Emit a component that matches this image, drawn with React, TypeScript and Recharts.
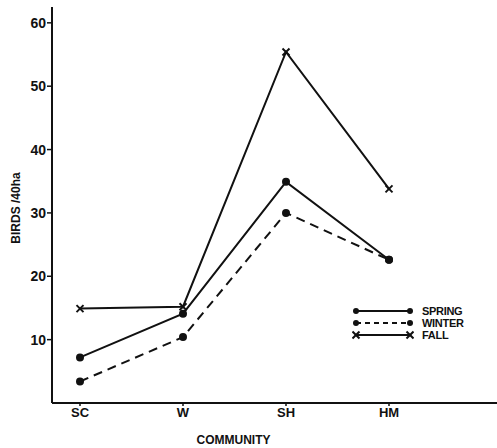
import { Line, LineChart, XAxis, YAxis } from "recharts";

const communities = ["SC", "W", "SH", "HM"];
const spring = [7.2, 14.1, 34.9, 22.6];
const winter = [3.4, 10.4, 30, 22.6];
const fall = [14.9, 15.2, 55.4, 33.8];
const yTicks = [10, 20, 30, 40, 50, 60];

const data = communities.map((c, i) => ({
  community: c,
  spring: spring[i],
  winter: winter[i],
  fall: fall[i],
}));

const FONT = "'Liberation Sans', Arial, sans-serif";

function CrossDot(props: { cx?: number; cy?: number }) {
  const { cx, cy } = props;
  if (cx == null || cy == null) return null;
  const s = 3.5;
  return (
    <g stroke="#111" strokeWidth={2}>
      <line x1={cx - s} y1={cy - s} x2={cx + s} y2={cy + s} />
      <line x1={cx - s} y1={cy + s} x2={cx + s} y2={cy - s} />
    </g>
  );
}

function LegendBox() {
  const rows = [
    { label: "SPRING", dash: undefined, mark: "dot" },
    { label: "WINTER", dash: "5 4", mark: "dot" },
    { label: "FALL", dash: undefined, mark: "x" },
  ];
  return (
    <div
      style={{
        position: "absolute",
        left: 352,
        top: 305,
        fontFamily: FONT,
        fontWeight: 700,
        fontSize: 11,
        lineHeight: "12px",
        color: "#111",
      }}
    >
      {rows.map((r) => (
        <div key={r.label} style={{ display: "flex", alignItems: "center", height: 12 }}>
          <svg width={62} height={12}>
            <line x1={4} y1={6} x2={58} y2={6} stroke="#111" strokeWidth={2} strokeDasharray={r.dash} />
            {r.mark === "dot" ? (
              <>
                <circle cx={4} cy={6} r={3} fill="#111" />
                <circle cx={58} cy={6} r={3} fill="#111" />
              </>
            ) : (
              <>
                <CrossDot cx={4} cy={6} />
                <CrossDot cx={58} cy={6} />
              </>
            )}
          </svg>
          <span style={{ marginLeft: 8, letterSpacing: -0.3 }}>{r.label}</span>
        </div>
      ))}
    </div>
  );
}

export default function App() {
  return (
    <div style={{ position: "fixed", left: 0, top: 0, width: 497, height: 448, background: "#fff" }}>
      <LineChart
        width={497}
        height={448}
        data={data}
        margin={{ top: 7, right: 0, bottom: 0, left: 0 }}
      >
        <XAxis
          dataKey="community"
          height={45}
          padding={{ left: 28, right: 108 }}
          axisLine={{ stroke: "#111", strokeWidth: 2 }}
          tickLine={{ stroke: "#111", strokeWidth: 1.5 }}
          tickSize={3}
          tick={{ fill: "#111", fontFamily: FONT, fontWeight: 700, fontSize: 13 }}
          label={{
            value: "COMMUNITY",
            position: "insideBottom",
            offset: 4,
            dx: -41,
            fill: "#111",
            fontFamily: FONT,
            fontWeight: 700,
            fontSize: 12,
          }}
        />
        <YAxis
          width={52}
          domain={[0, 62.5]}
          ticks={yTicks}
          axisLine={{ stroke: "#111", strokeWidth: 2 }}
          tickLine={{ stroke: "#111", strokeWidth: 1.5 }}
          tickSize={5}
          tickMargin={1}
          tick={{ fill: "#111", fontFamily: FONT, fontWeight: 700, fontSize: 14 }}
          label={{
            value: "BIRDS /40ha",
            angle: -90,
            position: "insideLeft",
            offset: 16,
            dy: 3,
            textAnchor: "middle",
            fill: "#111",
            fontFamily: FONT,
            fontWeight: 700,
            fontSize: 12,
          }}
        />
        <Line
          dataKey="spring"
          stroke="#111"
          strokeWidth={2}
          dot={{ r: 3, fill: "#111", stroke: "#111" }}
          isAnimationActive={false}
        />
        <Line
          dataKey="winter"
          stroke="#111"
          strokeWidth={2}
          strokeDasharray="9 6"
          dot={{ r: 3, fill: "#111", stroke: "#111", strokeDasharray: "0" }}
          isAnimationActive={false}
        />
        <Line
          dataKey="fall"
          stroke="#111"
          strokeWidth={2}
          dot={<CrossDot />}
          isAnimationActive={false}
        />
      </LineChart>
      <LegendBox />
    </div>
  );
}
